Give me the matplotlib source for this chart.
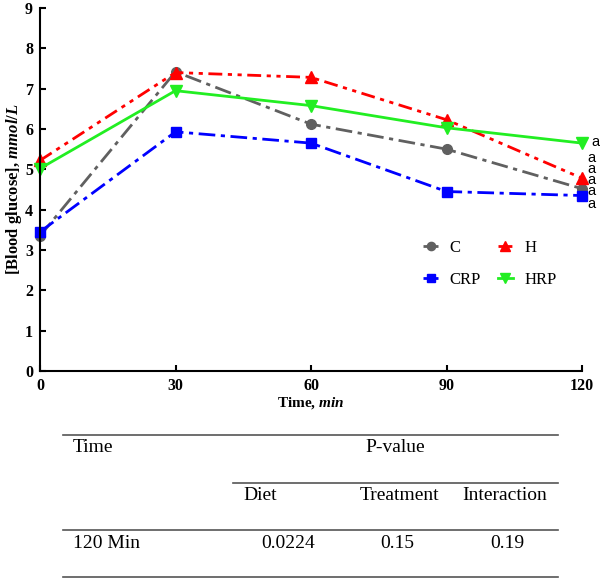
import matplotlib
matplotlib.use('Agg')
import matplotlib.pyplot as plt
from matplotlib.lines import Line2D

plt.rcParams['font.family'] = 'Liberation Serif'
plt.rcParams['mathtext.fontset'] = 'custom'
plt.rcParams['mathtext.it'] = 'Liberation Serif:italic:bold'
plt.rcParams['mathtext.rm'] = 'Liberation Serif:bold'

# data
times = [0, 30, 60, 90, 120]
glu_C = [3.35, 7.42, 6.12, 5.50, 4.52]
glu_H = [5.22, 7.40, 7.28, 6.23, 4.78]
glu_CRP = [3.45, 5.93, 5.65, 4.45, 4.35]
glu_HRP = [5.02, 6.95, 6.58, 6.03, 5.65]
sig_letters = ['a', 'a', 'a', 'a', 'a', 'a']
sig_y = [5.68, 5.28, 5.01, 4.74, 4.46, 4.14]

tbl_time = '120 Min'
tbl_cols = ['Diet', 'Treatment', 'Interaction']
tbl_vals = ['0.0224', '0.15', '0.19']

fig = plt.figure(figsize=(6, 5.78), dpi=100)
ax = fig.add_axes([40/600, 1-371/578, 542/600, 363/578])

lC, = ax.plot(times, glu_C, color='#606060', lw=2, dashes=[6, 2, 1.5, 2],
              marker='o', ms=7, clip_on=False, label='C')
lH, = ax.plot(times, glu_H, color='#ff0000', lw=2, dashes=[5, 2, 1.5, 2, 1.5, 2],
              marker='^', ms=8, clip_on=False, label='H')
lCRP, = ax.plot(times, glu_CRP, color='#0000ff', lw=2, dashes=[6, 2, 1.5, 2],
                marker='s', ms=7, clip_on=False, label='CRP')
lHRP, = ax.plot(times, glu_HRP, color='#22ee22', lw=2,
                marker='v', ms=8, clip_on=False, label='HRP')

# letters next to the last points
for i, (s, y) in enumerate(zip(sig_letters, sig_y)):
    dx = 10 if i == 0 else 6.5
    ax.annotate(s, (120, y), xytext=(dx, 0), textcoords='offset points',
                ha='center', va='center', fontsize=10.5,
                family='Liberation Sans', annotation_clip=False)

ax.set_xlim(0, 120)
ax.set_ylim(0, 9)
ax.set_xticks(times)
ax.set_yticks(range(10))
ax.spines['top'].set_visible(False)
ax.spines['right'].set_visible(False)
ax.spines['left'].set_linewidth(1.5)
ax.spines['bottom'].set_linewidth(1.5)
ax.tick_params(direction='in', length=4, width=1.5, labelsize=11.5, pad=5)
for t in ax.get_xticklabels() + ax.get_yticklabels():
    t.set_fontweight('bold')
ax.set_xlabel(r'Time, $\mathit{min}$', fontsize=11, fontweight='bold', labelpad=1)
ax.set_ylabel(r'[Blood glucose], $\mathit{mmol/L}$', fontsize=12, fontweight='bold', labelpad=1)

ax.legend(handles=[lC, lCRP, lH, lHRP], ncol=2, frameon=False,
          loc='center', bbox_to_anchor=(0.83, 0.295), fontsize=12,
          handlelength=0.9, columnspacing=1.0, labelspacing=0.95,
          handletextpad=0.7, markerscale=0.85)

# P-value table below the chart
W, H = 600, 578
def hline(x0, x1, y):
    fig.add_artist(Line2D([x0/W, x1/W], [1-y/H, 1-y/H], color='#555555', lw=1.2))

hline(63, 558, 435)
hline(233, 558, 483)
hline(63, 558, 530)
hline(63, 558, 577)

fs = 14
fig.text(73/W, 1-448/H, 'Time', fontsize=fs, va='center')
fig.text(395/W, 1-448/H, 'P-value', fontsize=fs, va='center', ha='center')
fig.text(243/W, 1-495/H, tbl_cols[0], fontsize=fs, va='center')
fig.text(400/W, 1-495/H, tbl_cols[1], fontsize=fs, va='center', ha='center')
fig.text(505/W, 1-495/H, tbl_cols[2], fontsize=fs, va='center', ha='center')
fig.text(73/W, 1-543/H, tbl_time, fontsize=fs, va='center')
for x, v in zip([288, 397, 507], tbl_vals):
    fig.text(x/W, 1-543/H, v, fontsize=fs, va='center', ha='center')

fig.savefig('out.png', dpi=100)
